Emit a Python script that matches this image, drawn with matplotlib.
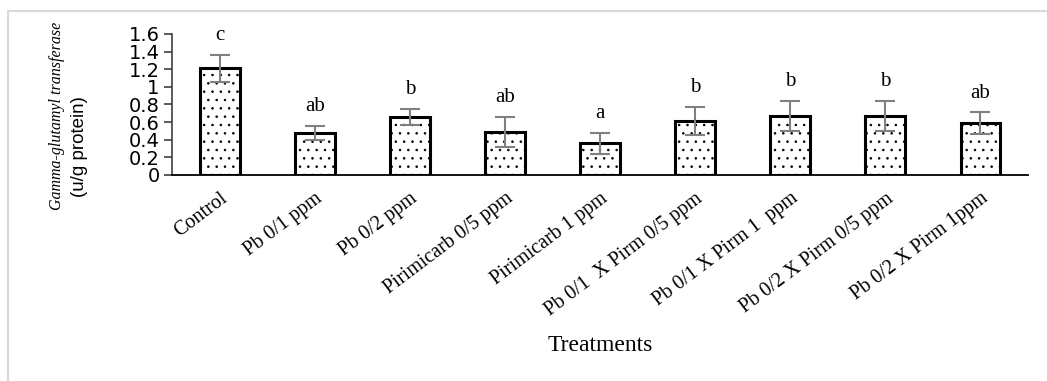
import matplotlib.pyplot as plt
import numpy as np

treatments = ['Control', 'Pb 0/1 ppm', 'Pb 0/2 ppm', 'Pirimicarb 0/5 ppm',
              'Pirimicarb 1 ppm', 'Pb 0/1  X Pirm 0/5 ppm', 'Pb 0/1 X Pirm 1  ppm',
              'Pb 0/2 X Pirm 0/5 ppm', 'Pb 0/2 X Pirm 1ppm']
means = [1.21, 0.48, 0.66, 0.49, 0.36, 0.61, 0.67, 0.67, 0.59]
errors = [0.15, 0.08, 0.09, 0.17, 0.12, 0.16, 0.17, 0.17, 0.12]
letters = ['c', 'ab', 'b', 'ab', 'a', 'b', 'b', 'b', 'ab']

plt.rcParams['hatch.linewidth'] = 0.6
plt.rcParams['hatch.color'] = '#333333'

fig = plt.figure(figsize=(10.47, 3.81), dpi=100)
ax = fig.add_axes([0.1643, 0.5407, 0.8176, 0.3701])

x = np.arange(len(treatments))
ax.bar(x, means, width=0.42, color='white', edgecolor='black', linewidth=2.2,
       hatch='..', zorder=2)
ax.errorbar(x, means, yerr=errors, fmt='none', ecolor='#808080', elinewidth=1.5,
            capsize=7, capthick=1.5, zorder=3)

for xi, m, e, l in zip(x, means, errors, letters):
    ax.text(xi, m + e + 0.22, l, ha='center', va='center', fontsize=15,
            family='Liberation Serif')

ax.set_xlim(-0.5, 8.5)
ax.set_ylim(0, 1.6)
ax.set_yticks(np.arange(0, 1.61, 0.2))
ax.set_yticklabels(['0', '0.2', '0.4', '0.6', '0.8', '1', '1.2', '1.4', '1.6'])
ax.tick_params(axis='y', labelsize=14, length=6, width=1.2, color='#404040', pad=3)
ax.tick_params(axis='x', length=0, pad=10)
ax.set_xticks(x)
ax.set_xticklabels(treatments, rotation=37, ha='right', rotation_mode='anchor',
                   fontsize=14.5, family='Liberation Serif')

for s in ['top', 'right']:
    ax.spines[s].set_visible(False)
ax.spines['left'].set_color('#404040')
ax.spines['left'].set_linewidth(1.2)
ax.spines['bottom'].set_linewidth(1.3)

fig.text(0.573, 0.094, 'Treatments', ha='center', va='center', fontsize=17,
         family='Liberation Serif')
fig.text(0.054, 0.695, 'Gamma-glutamyl transferase', rotation=90, ha='center',
         va='center', fontsize=11.5, family='Liberation Serif', style='italic')
fig.text(0.076, 0.615, '(u/g protein)', rotation=90, ha='center', va='center',
         fontsize=13.5, family='Liberation Sans')

# light frame lines at top and left
fig.add_artist(plt.Line2D([0.008, 0.999], [0.971, 0.971], color='#d9d9d9', lw=1.5))
fig.add_artist(plt.Line2D([0.008, 0.008], [0.0, 0.971], color='#d9d9d9', lw=1.5))

fig.savefig('out.png', dpi=100)
